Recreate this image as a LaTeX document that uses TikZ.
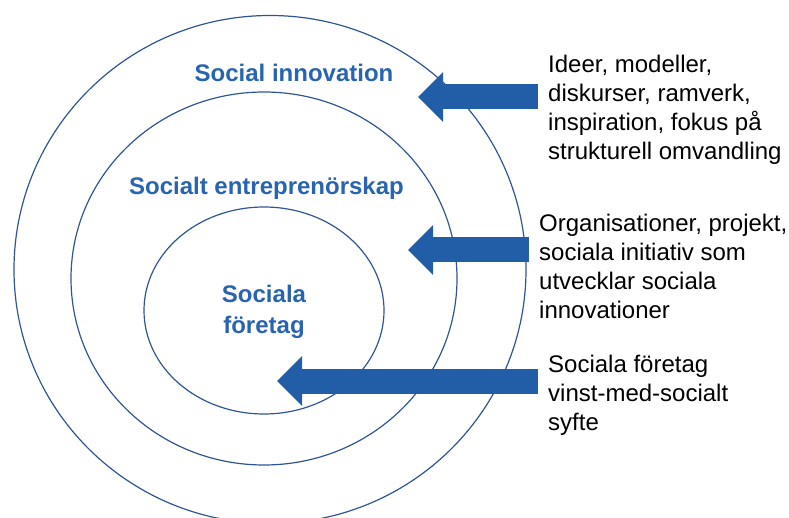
\documentclass[tikz,border=0pt]{standalone}
\usepackage{fontspec}
\setmainfont{Liberation Sans}
\usetikzlibrary{arrows.meta}
\definecolor{cercle}{RGB}{47,85,151}
\definecolor{fleche}{RGB}{34,94,168}
\definecolor{bleutitre}{RGB}{40,100,176}

\begin{document}
\begin{tikzpicture}[x=1pt,y=-1pt]
% définition des styles
\tikzstyle{anneau}=[draw=cercle,line width=1.2pt]
\tikzstyle{titre}=[font=\fontsize{24}{30}\selectfont\bfseries,text=bleutitre,align=center,inner sep=0pt]
\tikzstyle{texte}=[font=\fontsize{24}{29}\selectfont,align=left,anchor=base west,inner xsep=10pt,inner ysep=0pt]
\tikzstyle{grosse}=[-{Triangle[length=25pt,width=48pt]},line width=25pt,draw=fleche]
\useasboundingbox (0,0) rectangle (789,518);
% les cercles
\draw[anneau] (270,269.5) ellipse [x radius=256,y radius=254];
\draw[anneau] (264,278.5) ellipse [x radius=193,y radius=186.5];
\draw[anneau] (264,310.5) ellipse [x radius=120,y radius=103.5];
% les titres (ancre sur la dernière ligne)
\node[titre,anchor=base] (si) at (294,82) {Social innovation};
\node[titre,anchor=base] (se) at (266.5,195) {Socialt entreprenörskap};
\node[titre,anchor=base] (sf) at (264,333) {Sociala\\företag};
% les textes
\node[texte] (idees) at (538,160) {Ideer, modeller,\\diskurser, ramverk,\\inspiration, fokus på\\strukturell omvandling};
\node[texte] (orgs) at (529,319) {Organisationer, projekt,\\sociala initiativ som\\utvecklar sociala\\innovationer};
\node[texte] (sfdesc) at (538,430) {Sociala företag\\vinst-med-socialt\\syfte};
% les flèches
\coordinate (p1) at (418,97);
\coordinate (p2) at (408,250);
\coordinate (p3) at (277,381);
\draw[grosse] (idees.west |- p1) -- (p1);
\draw[grosse] (orgs.west |- p2) -- (p2);
\draw[grosse] (sfdesc.west |- p3) -- (p3);
\end{tikzpicture}
\end{document}
